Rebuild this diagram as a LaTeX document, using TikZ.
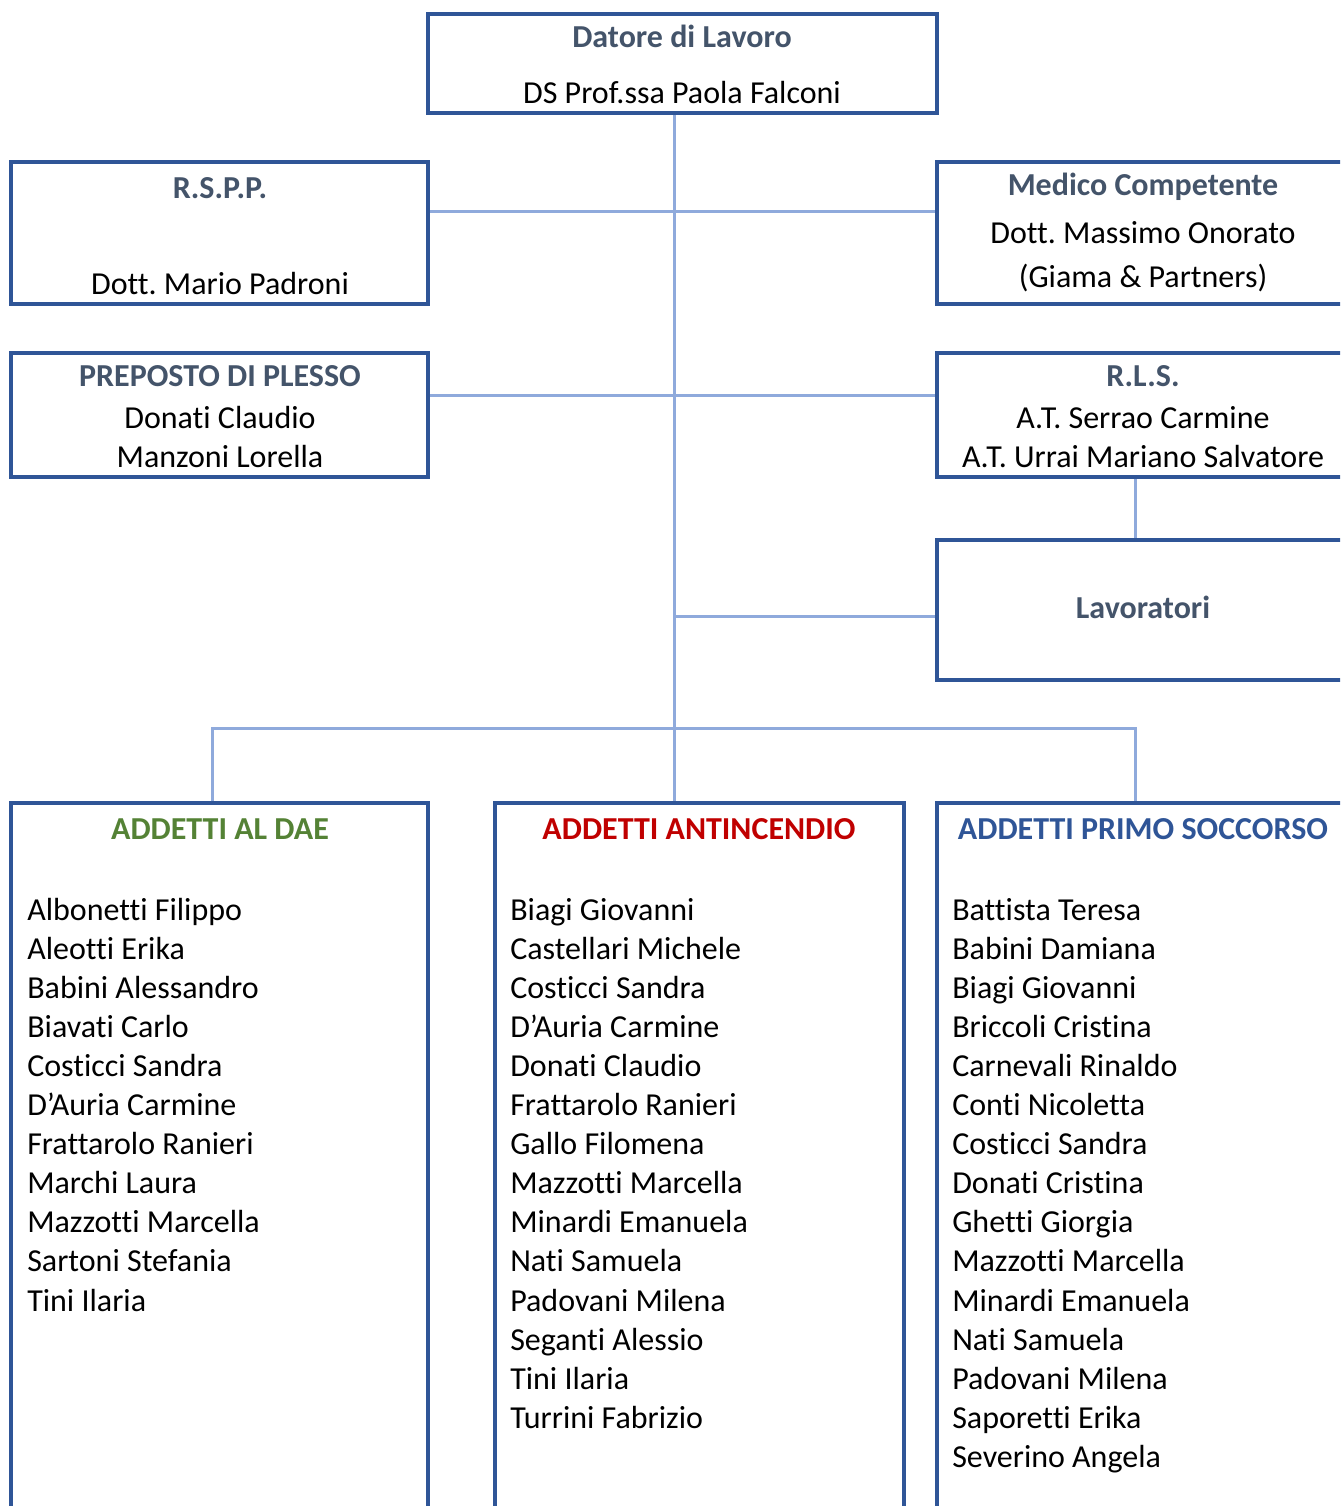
\documentclass[tikz,border=0pt]{standalone}
\usepackage{fontspec}
\setmainfont{Carlito}[Ligatures=NoCommon]
\frenchspacing
\usetikzlibrary{fit}
\definecolor{bordc}{HTML}{2F5597}
\definecolor{titc}{HTML}{44546A}
\definecolor{connc}{HTML}{8FAADC}
\definecolor{greenc}{HTML}{548235}
\definecolor{redc}{HTML}{C00000}
\begin{document}
\begin{tikzpicture}[x=0.75pt,y=-0.75pt,
  box/.style={draw=bordc,line width=3pt,inner sep=0pt,rectangle},
  conn/.style={draw=connc,line width=2.25pt},
  txt/.style={anchor=base,font=\fontsize{24}{29}\selectfont,inner sep=0pt},
  ttl/.style={txt,font=\fontsize{24}{29}\selectfont\bfseries,text=titc},
  lst/.style={anchor=base west,font=\fontsize{24}{29}\selectfont,inner sep=0pt}]
\useasboundingbox (0,0) rectangle (1340,1506);
\clip (0,0) rectangle (1340,1506);
% boxes
\node[box,fit={(428,14) (937,113)}] (datore) {};
\node[box,fit={(11,162) (428,304)}] (rspp) {};
\node[box,fit={(937,162) (1349,304)}] (medico) {};
\node[box,fit={(11,353) (428,477)}] (preposto) {};
\node[box,fit={(937,353) (1349,477)}] (rls) {};
\node[box,fit={(937,540) (1349,680)}] (lavoratori) {};
\node[box,fit={(11,803) (428,1540)}] (dae) {};
\node[box,fit={(495,803) (904,1540)}] (antinc) {};
\node[box,fit={(937,803) (1349,1540)}] (primo) {};
% helper coordinates
\coordinate (sx) at (674,0);
\coordinate (rx) at (1135,0);
\coordinate (lx) at (212,0);
\coordinate (h1) at (0,211);
\coordinate (h2) at (0,395);
\coordinate (h3) at (0,616);
\coordinate (spine) at (674,728);
% connectors
\draw[conn] (datore.south -| sx) -- (spine);
\draw[conn] (rspp.east |- h1) -- (medico.west |- h1);
\draw[conn] (preposto.east |- h2) -- (rls.west |- h2);
\draw[conn] (rls.south -| rx) -- (lavoratori.north -| rx);
\draw[conn] (sx |- h3) -- (lavoratori.west |- h3);
\draw[conn] (dae.north -| lx) -- (lx |- spine) -- (rx |- spine) -- (primo.north -| rx);
\draw[conn] (spine) -- (antinc.north -| sx);
% texts
\node[ttl] (t1) at (682,47) {Datore di Lavoro};
\node[txt] (t2) at (682,103) {DS Prof.ssa Paola Falconi};
\node[ttl] (t3) at (220,198) {R.S.P.P.};
\node[txt] (t4) at (220,294) {Dott. Mario Padroni};
\node[ttl] (t5) at (1143,195) {Medico Competente};
\node[txt] (t6) at (1143,243) {Dott. Massimo Onorato};
\node[txt] (t7) at (1143,287) {(Giama \& Partners)};
\node[ttl] (t8) at (220,386) {PREPOSTO DI PLESSO};
\node[txt] (t9) at (220,428) {Donati Claudio};
\node[txt] (t10) at (220,467) {Manzoni Lorella};
\node[ttl] (t11) at (1143,386) {R.L.S.};
\node[txt] (t12) at (1143,428) {A.T. Serrao Carmine};
\node[txt] (t13) at (1143,467) {A.T. Urrai Mariano Salvatore};
\node[ttl] (t14) at (1143,618) {Lavoratori};
\node[ttl,text=greenc] (t15) at (220,839) {ADDETTI AL DAE};
\node[ttl,text=redc] (t16) at (699,839) {ADDETTI ANTINCENDIO};
\node[ttl,text=bordc] (t17) at (1143,839) {ADDETTI PRIMO SOCCORSO};
\foreach \n [count=\i from 0] in {Albonetti Filippo,Aleotti Erika,Babini Alessandro,Biavati Carlo,Costicci Sandra,D’Auria Carmine,Frattarolo Ranieri,Marchi Laura,Mazzotti Marcella,Sartoni Stefania,Tini Ilaria}
  \node[lst] (da\i) at (27,920+39.1*\i) {\n};
\foreach \n [count=\i from 0] in {Biagi Giovanni,Castellari Michele,Costicci Sandra,D’Auria Carmine,Donati Claudio,Frattarolo Ranieri,Gallo Filomena,Mazzotti Marcella,Minardi Emanuela,Nati Samuela,Padovani Milena,Seganti Alessio,Tini Ilaria,Turrini Fabrizio}
  \node[lst] (an\i) at (510,920+39.1*\i) {\n};
\foreach \n [count=\i from 0] in {Battista Teresa,Babini Damiana,Biagi Giovanni,Briccoli Cristina,Carnevali Rinaldo,Conti Nicoletta,Costicci Sandra,Donati Cristina,Ghetti Giorgia,Mazzotti Marcella,Minardi Emanuela,Nati Samuela,Padovani Milena,Saporetti Erika,Severino Angela}
  \node[lst] (ps\i) at (952,920+39.1*\i) {\n};
\end{tikzpicture}
\end{document}
